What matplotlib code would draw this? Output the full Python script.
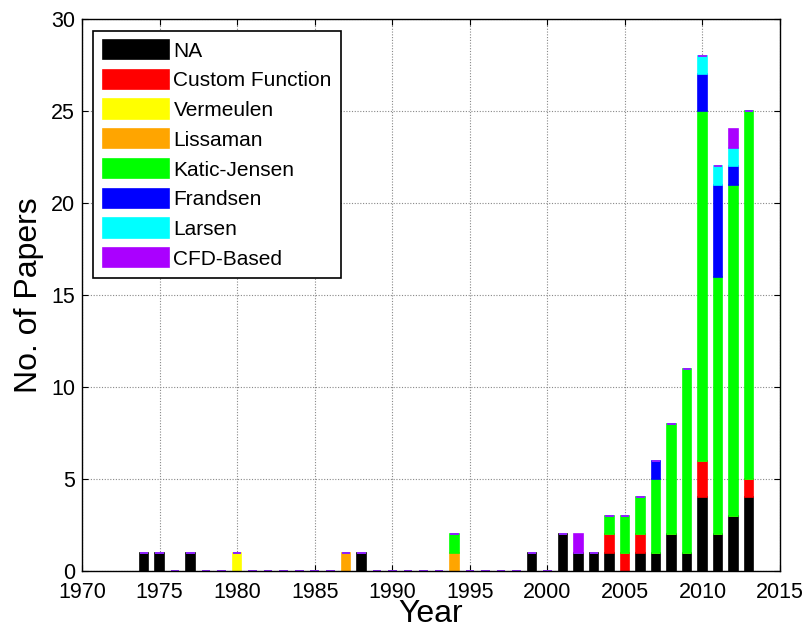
import matplotlib
matplotlib.use("Agg")
import matplotlib.pyplot as plt
import numpy as np

plt.rcParams["font.family"] = ["Liberation Sans", "DejaVu Sans"]

years = list(range(1974, 2014))

# papers per wake model and year, 1974..2013
na = [1, 1, 0, 1, 0, 0, 0, 0, 0, 0, 0, 0, 0, 0, 1, 0, 0, 0, 0, 0, 0, 0, 0, 0, 0, 1,
      0, 2, 1, 1, 1, 0, 1, 1, 2, 1, 4, 2, 3, 4]
custom = [0, 0, 0, 0, 0, 0, 0, 0, 0, 0, 0, 0, 0, 0, 0, 0, 0, 0, 0, 0, 0, 0, 0, 0, 0, 0,
          0, 0, 0, 0, 1, 1, 1, 0, 0, 0, 2, 0, 0, 1]
vermeulen = [0, 0, 0, 0, 0, 0, 1, 0, 0, 0, 0, 0, 0, 0, 0, 0, 0, 0, 0, 0, 0, 0, 0, 0, 0, 0,
             0, 0, 0, 0, 0, 0, 0, 0, 0, 0, 0, 0, 0, 0]
lissaman = [0, 0, 0, 0, 0, 0, 0, 0, 0, 0, 0, 0, 0, 1, 0, 0, 0, 0, 0, 0, 1, 0, 0, 0, 0, 0,
            0, 0, 0, 0, 0, 0, 0, 0, 0, 0, 0, 0, 0, 0]
katic = [0, 0, 0, 0, 0, 0, 0, 0, 0, 0, 0, 0, 0, 0, 0, 0, 0, 0, 0, 0, 1, 0, 0, 0, 0, 0,
         0, 0, 0, 0, 1, 2, 2, 4, 6, 10, 19, 14, 18, 20]
frandsen = [0, 0, 0, 0, 0, 0, 0, 0, 0, 0, 0, 0, 0, 0, 0, 0, 0, 0, 0, 0, 0, 0, 0, 0, 0, 0,
            0, 0, 0, 0, 0, 0, 0, 1, 0, 0, 2, 5, 1, 0]
larsen = [0, 0, 0, 0, 0, 0, 0, 0, 0, 0, 0, 0, 0, 0, 0, 0, 0, 0, 0, 0, 0, 0, 0, 0, 0, 0,
          0, 0, 0, 0, 0, 0, 0, 0, 0, 0, 1, 1, 1, 0]
cfd = [0, 0, 0, 0, 0, 0, 0, 0, 0, 0, 0, 0, 0, 0, 0, 0, 0, 0, 0, 0, 0, 0, 0, 0, 0, 0,
       0, 0, 1, 0, 0, 0, 0, 0, 0, 0, 0, 0, 1, 0]

series = [
    ("NA", na, "#000000"),
    ("Custom Function", custom, "#ff0000"),
    ("Vermeulen", vermeulen, "#ffff00"),
    ("Lissaman", lissaman, "#ffa500"),
    ("Katic-Jensen", katic, "#00ff00"),
    ("Frandsen", frandsen, "#0000ff"),
    ("Larsen", larsen, "#00ffff"),
    ("CFD-Based", cfd, "#aa00ff"),
]

fig = plt.figure(figsize=(8.05, 6.33), dpi=100)
ax = fig.add_axes([0.102, 0.098, 0.867, 0.872])

bottom = np.zeros(len(years))
for label, vals, color in series:
    vals = np.array(vals, dtype=float)
    ax.bar(years, vals, width=0.55, bottom=bottom, color=color,
           edgecolor=color, linewidth=1.2, label=label, zorder=3)
    bottom += vals

ax.set_xlim(1970, 2015)
ax.set_ylim(0, 30)
ax.set_xticks(range(1970, 2016, 5))
ax.set_yticks(range(0, 31, 5))
ax.tick_params(labelsize=15.5, direction="in", top=True, right=True, length=4)
ax.tick_params(axis="x", pad=8)
ax.tick_params(axis="y", pad=5)
ax.grid(True, color="#888888", linestyle=(0, (1, 1.5)), linewidth=0.8, zorder=0)
ax.set_axisbelow(True)
for sp in ax.spines.values():
    sp.set_linewidth(1.0)
    sp.set_zorder(5)

ax.set_xlabel("Year", fontsize=23, labelpad=-3)
ax.set_ylabel("No. of Papers", fontsize=23, labelpad=5)

leg = ax.legend(loc="upper left", bbox_to_anchor=(0.016, 0.979), fontsize=15,
                handlelength=3.2, handleheight=1.05, labelspacing=0.43,
                handletextpad=0.2, borderpad=0.45, borderaxespad=0,
                fancybox=False, framealpha=1, edgecolor="black")
leg.get_frame().set_linewidth(1.2)

fig.savefig("out.png", dpi=100)
